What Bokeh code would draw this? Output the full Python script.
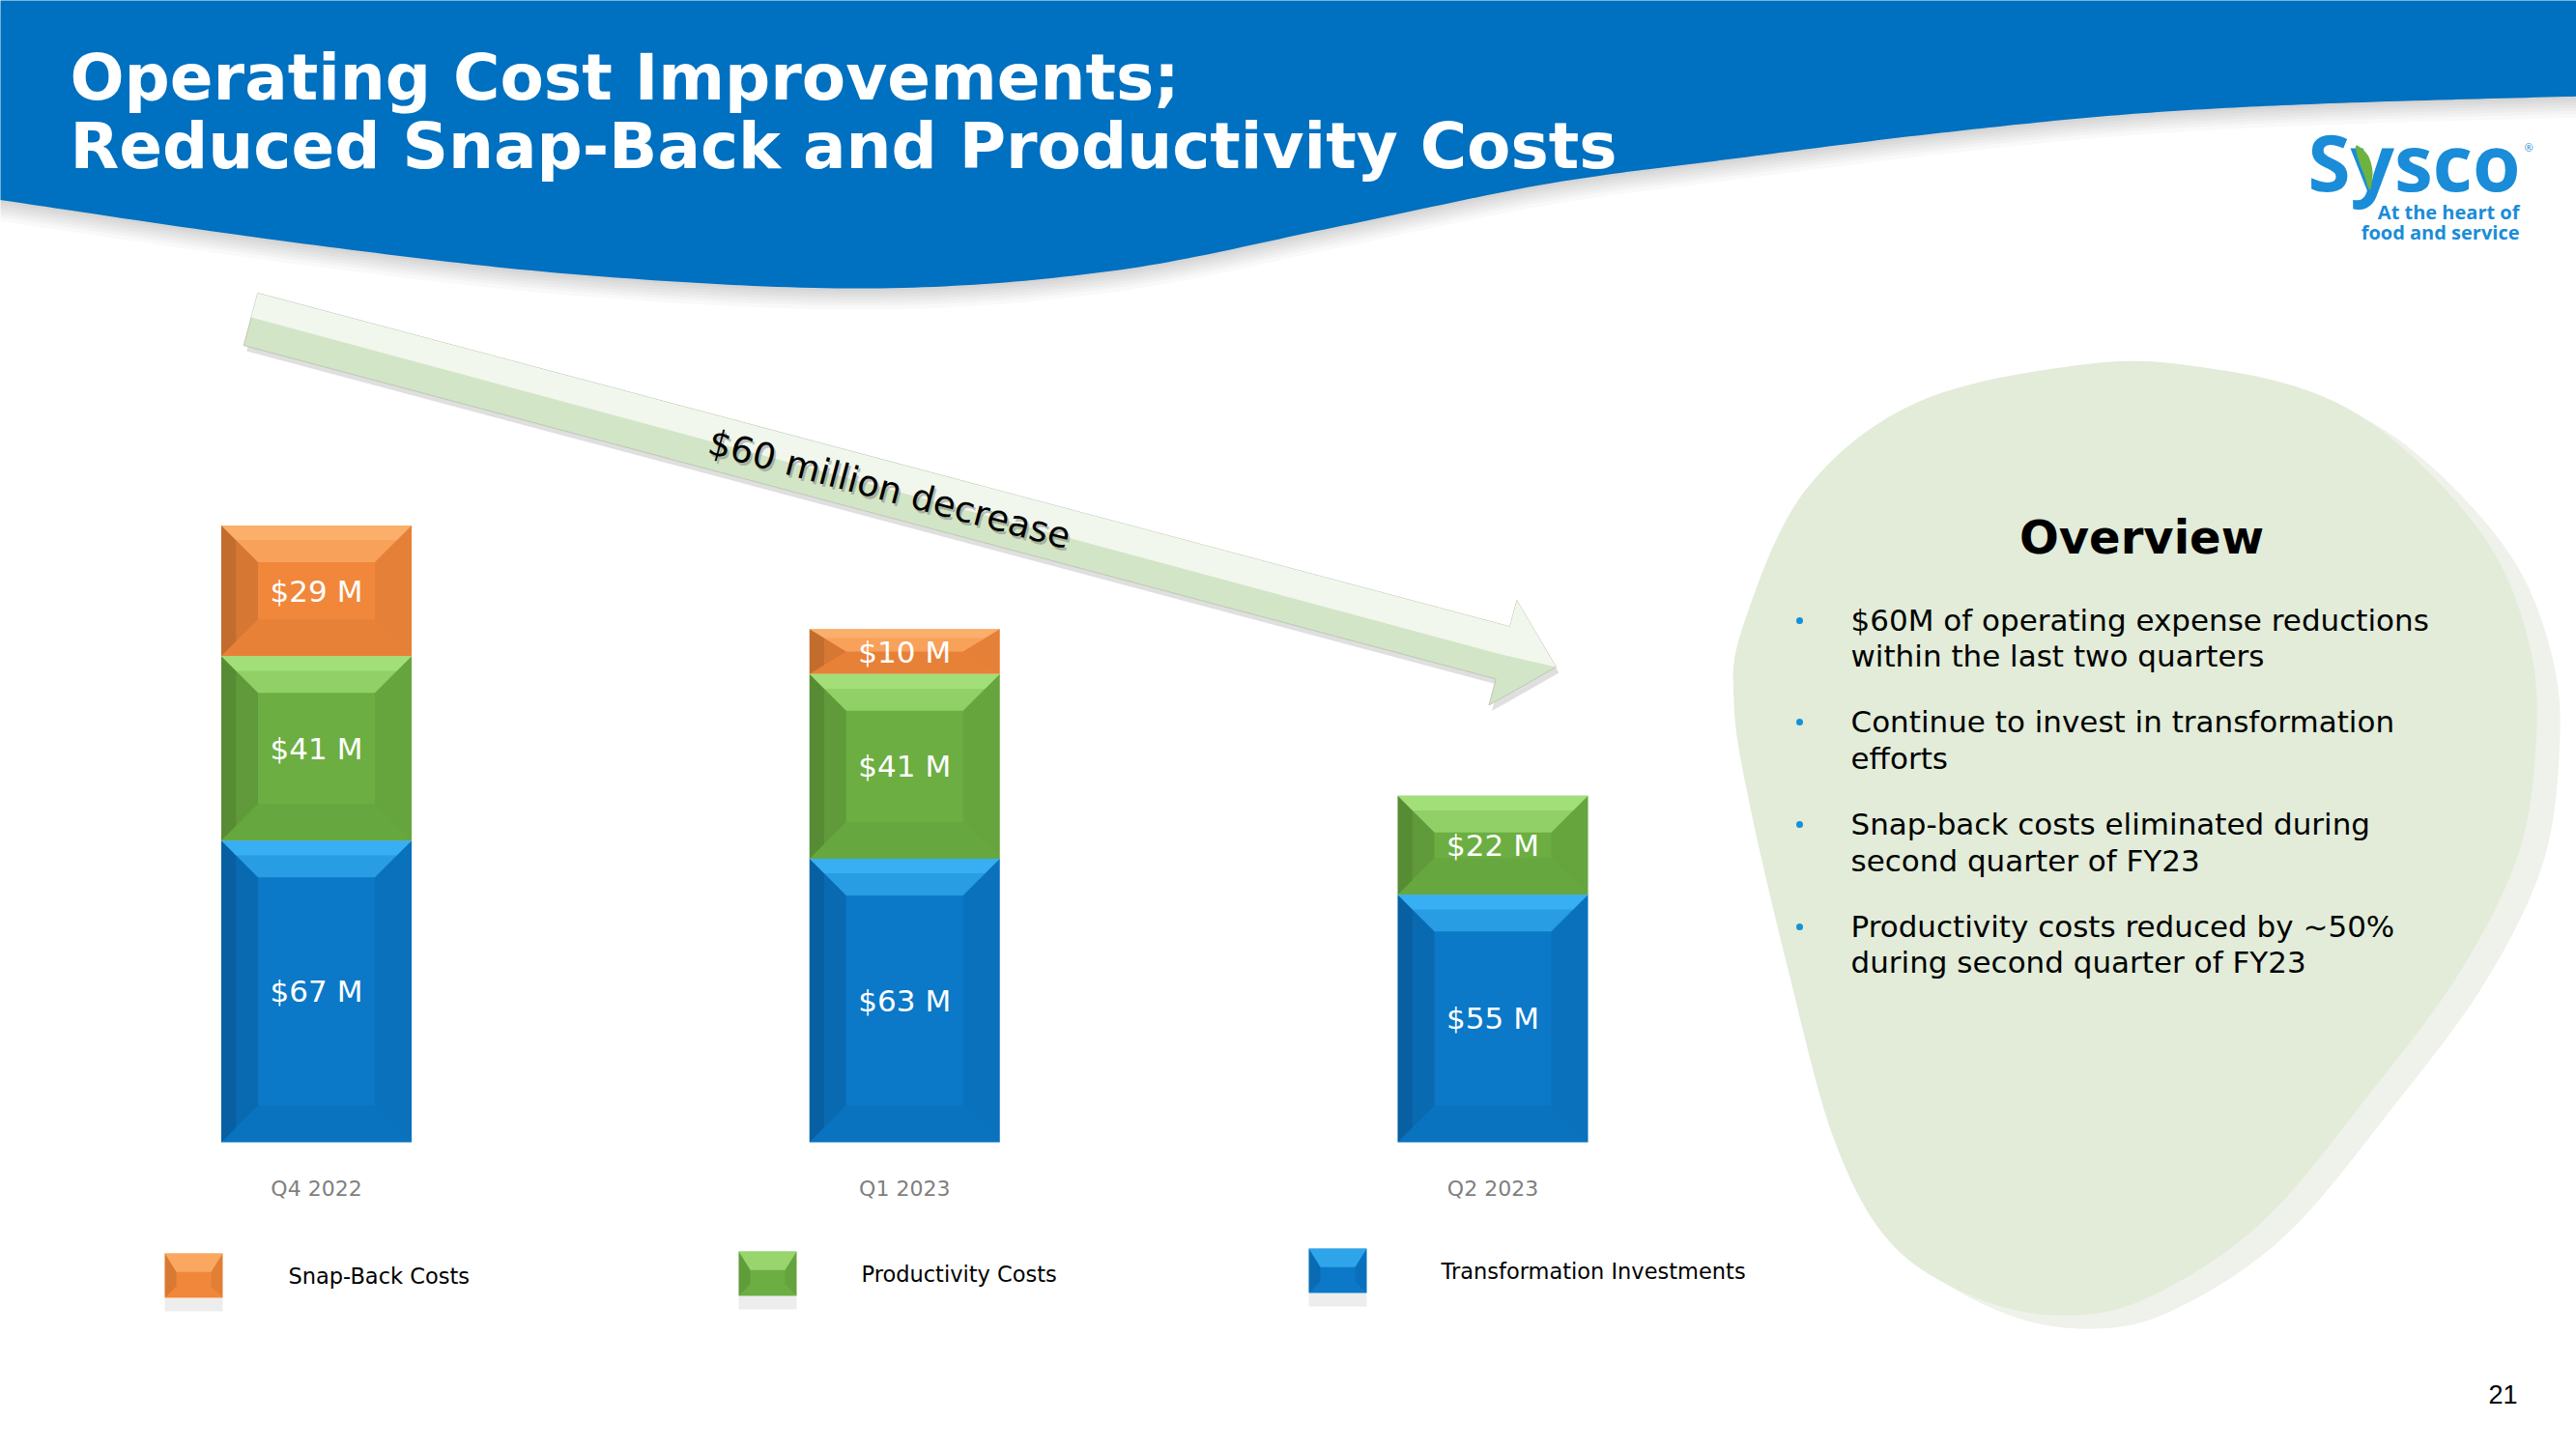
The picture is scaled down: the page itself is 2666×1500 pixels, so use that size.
import numpy as np
from bokeh.plotting import figure
from bokeh.models import Range1d
from bokeh.core.properties import value
from bokeh.embed import file_html
from bokeh.resources import INLINE

# ---------------- data ----------------
quarters = ["Q4 2022", "Q1 2023", "Q2 2023"]
transformation = [67, 63, 55]
productivity = [41, 41, 22]
snap_back = [29, 10, 0]
series_names = ["Transformation Investments", "Productivity Costs", "Snap-Back Costs"]
legend_order = ["Snap-Back Costs", "Productivity Costs", "Transformation Investments"]
title_lines = ["Operating Cost Improvements;", "Reduced Snap-Back and Productivity Costs"]
arrow_label = "$60 million decrease"
overview_title = "Overview"
overview_bullets = [
    ["$60M of operating expense reductions", "within the last two quarters"],
    ["Continue to invest in transformation", "efforts"],
    ["Snap-back costs eliminated during", "second quarter of FY23"],
    ["Productivity costs reduced by ~50%", "during second quarter of FY23"],
]
logo_word = "Sysco"
logo_tagline = ["At the heart of", "food and service"]
page_number = "21"

# ---------------- style ----------------
BLUE, GREEN, ORANGE = "#0B78C8", "#6CAE42", "#F1873A"
LIGHT = {BLUE: "#46C2FF", GREEN: "#B6EF8C", ORANGE: "#FFBC7C"}
series_colors = [BLUE, GREEN, ORANGE]
series_values = [transformation, productivity, snap_back]
color_of = dict(zip(series_names, series_colors))

FONT = value("DejaVu Sans")
SW, SH = 2666, 1500          # slide coordinate space (= page pixels)
W, H = 2666, 1500            # figure size in pixels
PX_PER_X, X0_PX = 608.75, 327
PX_PER_M, BASE_PX = 4.66, 1182

x_start = -X0_PX / PX_PER_X
x_end = x_start + SW / PX_PER_X
y_end = BASE_PX / PX_PER_M
y_start = y_end - SH / PX_PER_M

p = figure(width=W, height=H, x_range=Range1d(x_start, x_end), y_range=Range1d(y_start, y_end),
           output_backend="svg", toolbar_location=None, x_axis_location=None, y_axis_location=None,
           min_border=0, outline_line_color=None, background_fill_color="white",
           border_fill_color="white")
p.title = None
p.grid.visible = False
p.extra_x_ranges = {"px": Range1d(0, SW)}
p.extra_y_ranges = {"px": Range1d(SH, 0)}
PXR = dict(x_range_name="px", y_range_name="px")


def catmull(pts, closed, n=24):
    P = np.asarray(pts, float)
    if closed:
        Q = np.vstack([P[-1:], P, P[:2]])
        rng = range(1, len(P) + 1)
    else:
        Q = np.vstack([P[:1], P, P[-1:]])
        rng = range(1, len(P))
    t = np.linspace(0, 1, n, endpoint=False)[:, None]
    out = []
    for k in rng:
        p0, p1, p2, p3 = Q[k - 1], Q[k], Q[k + 1], Q[k + 2]
        out.append(0.5 * (2 * p1 + (p2 - p0) * t + (2 * p0 - 5 * p1 + 4 * p2 - p3) * t ** 2
                          + (3 * p1 - p0 - 3 * p2 + p3) * t ** 3))
    if not closed:
        out.append(P[-1:])
    return np.vstack(out)


# ---------------- header band ----------------
hdr_pts = [(-10, 205), (300, 250), (600, 284), (900, 298), (1150, 280), (1380, 235), (1600, 190),
           (1800, 163), (2000, 138), (2200, 118), (2400, 107), (2676, 99)]
curve = catmull(hdr_pts, False)
hx = [-10, 2676] + list(curve[::-1, 0])
hy = np.array([-10, -10] + list(curve[::-1, 1]))
for d in [3, 6, 9, 12, 15, 18, 22]:
    p.patch(hx, list(hy + d), fill_color="#000000", fill_alpha=0.022, line_color=None, **PXR)
p.patch(hx, list(hy), fill_color="#0070C0", line_color=None, **PXR)

p.text(x=[72, 72], y=[80, 151], text=title_lines, text_font=FONT, text_font_style="bold",
       text_font_size="66px", text_color="white", text_baseline="middle", text_align="left", **PXR)

# ---------------- logo ----------------
LOGO = "#1A8CD8"
p.text(x=[2608], y=[166], text=[logo_word], text_font=value("Open Sans"), text_font_style="bold",
       text_font_size="80px", text_color=LOGO, text_align="right", text_baseline="middle", **PXR)
leaf = catmull([(2438, 150), (2450, 160), (2455, 178), (2452, 196), (2446, 180), (2440, 164)], True, 8)
p.patch(list(leaf[:, 0]), list(leaf[:, 1]), fill_color="#6DB33F", line_color=None, **PXR)
p.text(x=[2607, 2607], y=[219, 240], text=logo_tagline, text_font=value("Open Sans"),
       text_font_style="bold", text_font_size="20px", text_color=LOGO, text_align="right",
       text_baseline="middle", **PXR)
p.text(x=[2612], y=[152], text=["®"], text_font=value("Open Sans"), text_font_size="11px",
       text_color=LOGO, text_align="left", text_baseline="middle", **PXR)

# ---------------- overview blob ----------------
blob_pts = [(2163, 376), (2281, 380), (2399, 408), (2488, 465), (2576, 564), (2618, 670), (2624, 769),
            (2606, 883), (2547, 1003), (2458, 1124), (2340, 1265), (2222, 1343), (2134, 1361),
            (2045, 1343), (1957, 1287), (1898, 1180), (1850, 1003), (1809, 826), (1794, 727),
            (1803, 649), (1868, 507), (1986, 415)]
bc = catmull(blob_pts, True)
p.patch(list(bc[:, 0] + 24), list(bc[:, 1] + 14), fill_color="#EEF2EA", line_color=None, **PXR)
p.patch(list(bc[:, 0]), list(bc[:, 1]), fill_color="#E2ECD9", line_color=None, **PXR)

p.text(x=[2216], y=[555], text=[overview_title], text_font=FONT, text_font_style="bold",
       text_font_size="48px", text_color="black", text_align="center", text_baseline="middle", **PXR)
bl_mid = [[641, 678], [746, 784], [852, 890], [958, 995]]
bx_, by_, bt_ = [], [], []
for lines, ys in zip(overview_bullets, bl_mid):
    for ln, yy in zip(lines, ys):
        bx_.append(1915); by_.append(yy); bt_.append(ln)
p.text(x=bx_, y=by_, text=bt_, text_font=FONT, text_font_size="31px", text_color="black",
       text_align="left", text_baseline="middle", **PXR)
p.scatter(x=[1862] * 4, y=[ys[0] + 1 for ys in bl_mid], size=7, marker="circle",
          fill_color="#1591D6", line_color=None, **PXR)

# ---------------- arrow ----------------
S = np.array([259.0, 330.0]); TIP = np.array([1610.0, 690.0])
dvec = TIP - S; L = float(np.hypot(*dvec)); c, s = dvec / L
hb = L - 57


def to_px(loc):
    loc = np.asarray(loc, float)
    return S[0] + loc[:, 0] * c - loc[:, 1] * s, S[1] + loc[:, 0] * s + loc[:, 1] * c


arrow_loc = [(0, -28), (hb, -28), (hb, -56), (L, 0), (hb, 56), (hb, 28), (0, 28)]
ax, ay = to_px(arrow_loc)
p.patch(list(ax + 3), list(ay + 6), fill_color="#7F7F7F", fill_alpha=0.25, line_color=None, **PXR)
p.patch(list(ax), list(ay), fill_color="#D3E5C7", line_color="#BCC8B4", line_width=1, **PXR)
up_loc = [(0, -28), (hb, -28), (hb, -56), (L, 0), (hb, 2), (0, -2)]
ux, uy = to_px(up_loc)
p.patch(list(ux), list(uy), fill_color="#F1F7ED", line_color=None, **PXR)
tx, ty = to_px([(684, 0)])
ang = -float(np.arctan2(dvec[1], dvec[0]))
p.text(x=list(tx + 2), y=list(ty + 3), text=[arrow_label], angle=ang, text_font=FONT,
       text_font_size="37px", text_color="#555555", text_alpha=0.35, text_align="center",
       text_baseline="middle", **PXR)
p.text(x=list(tx), y=list(ty), text=[arrow_label], angle=ang, text_font=FONT,
       text_font_size="37px", text_color="black", text_align="center", text_baseline="middle", **PXR)

# ---------------- stacked bars ----------------
w = 197 / PX_PER_X
bxv = 38 / PX_PER_X
by_max = 38 / PX_PER_M
quad = dict(left=[], right=[], bottom=[], top=[], color=[])
lab = dict(x=[], y=[], t=[])
facets = {k: dict(xs=[], ys=[], color=[]) for k in ["top", "strip", "left", "lstrip", "right", "bottom"]}
bottoms = [0.0] * len(quarters)
for vals, col in zip(series_values, series_colors):
    for i, v in enumerate(vals):
        if v <= 0:
            continue
        B = bottoms[i]; T = B + v
        bottoms[i] = T
        Lx, Rx = i - w / 2, i + w / 2
        by = min(by_max, v / 2)
        quad["left"].append(Lx); quad["right"].append(Rx)
        quad["bottom"].append(B); quad["top"].append(T); quad["color"].append(col)
        lab["x"].append(i); lab["y"].append((B + T) / 2); lab["t"].append(f"${v} M")
        f = facets
        f["top"]["xs"].append([Lx, Rx, Rx - bxv, Lx + bxv]); f["top"]["ys"].append([T, T, T - by, T - by])
        f["top"]["color"].append(LIGHT[col])
        k = 0.4
        f["strip"]["xs"].append([Lx, Rx, Rx - bxv * k, Lx + bxv * k])
        f["strip"]["ys"].append([T, T, T - by * k, T - by * k]); f["strip"]["color"].append(LIGHT[col])
        f["left"]["xs"].append([Lx, Lx + bxv, Lx + bxv, Lx]); f["left"]["ys"].append([T, T - by, B + by, B])
        f["left"]["color"].append("#000000")
        f["lstrip"]["xs"].append([Lx, Lx + bxv * k, Lx + bxv * k, Lx])
        f["lstrip"]["ys"].append([T, T - by * k, B + by * k, B]); f["lstrip"]["color"].append("#000000")
        f["right"]["xs"].append([Rx, Rx, Rx - bxv, Rx - bxv]); f["right"]["ys"].append([T, B, B + by, T - by])
        f["right"]["color"].append("#000000")
        f["bottom"]["xs"].append([Lx, Rx, Rx - bxv, Lx + bxv]); f["bottom"]["ys"].append([B, B, B + by, B + by])
        f["bottom"]["color"].append("#000000")

p.quad(left="left", right="right", bottom="bottom", top="top", fill_color="color", line_color=None,
       source=quad)
alphas = {"top": 0.5, "strip": 0.5, "left": 0.11, "lstrip": 0.09, "right": 0.05, "bottom": 0.04}
for k, d in facets.items():
    p.patches(xs="xs", ys="ys", fill_color="color", fill_alpha=alphas[k], line_color=None, source=d)
p.text(x="x", y="y", text="t", source=lab, text_font=FONT, text_font_size="31px", text_color="white",
       text_align="center", text_baseline="middle")

cat_y = -(1230 - BASE_PX) / PX_PER_M
p.text(x=list(range(len(quarters))), y=[cat_y] * len(quarters), text=quarters, text_font=FONT,
       text_font_size="22px", text_color="#7F7F7F", text_align="center", text_baseline="middle")

# ---------------- legend ----------------
leg_cx = [200, 794, 1384]
leg_cy = [1320, 1318, 1315]
leg_tx = [298, 891, 1491]
sw, sh, sb = 60, 46, 12
for name, cx, cy, tx_ in zip(legend_order, leg_cx, leg_cy, leg_tx):
    col = color_of[name]
    l, r, t, b = cx - sw / 2, cx + sw / 2, cy - sh / 2, cy + sh / 2
    p.quad(left=[l], right=[r], top=[b + 14], bottom=[b], fill_color="#9A9A9A", fill_alpha=0.18,
           line_color=None, **PXR)
    p.quad(left=[l], right=[r], top=[t], bottom=[b], fill_color=col, line_color=None, **PXR)
    p.patch([l, r, r - sb, l + sb], [t, t, t + sb * 1.6, t + sb * 1.6], fill_color=LIGHT[col],
            fill_alpha=0.6, line_color=None, **PXR)
    p.patch([l, l + sb, l + sb, l], [t, t + sb * 1.6, b - sb, b], fill_color="#000000",
            fill_alpha=0.1, line_color=None, **PXR)
    p.patch([r, r - sb, r - sb, r], [t, t + sb * 1.6, b - sb, b], fill_color="#000000",
            fill_alpha=0.06, line_color=None, **PXR)
    p.text(x=[tx_], y=[cy], text=[name], text_font=FONT, text_font_size="22.5px", text_color="black",
           text_align="left", text_baseline="middle", **PXR)

# ---------------- page number ----------------
p.text(x=[2590], y=[1443], text=[page_number], text_font=value("Liberation Sans"),
       text_font_size="27px", text_color="black", text_align="center", text_baseline="middle", **PXR)

open("out.html", "w").write(file_html(p, INLINE))
